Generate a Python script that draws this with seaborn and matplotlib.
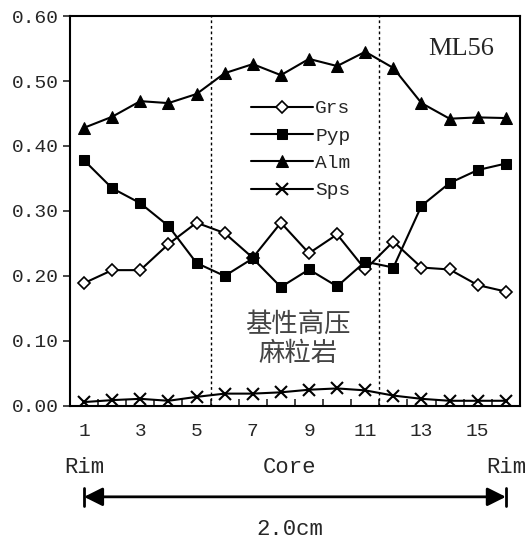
import numpy as np
import pandas as pd
import matplotlib
matplotlib.use("Agg")
import matplotlib.pyplot as plt
import matplotlib.transforms as mtransforms
import seaborn as sns

# Data (points 1..16, rim -> core -> rim)
points = list(range(1, 17))
grs = [0.189, 0.209, 0.209, 0.249, 0.282, 0.266, 0.228, 0.282, 0.235, 0.264, 0.210, 0.253, 0.213, 0.210, 0.186, 0.176]
pyp = [0.378, 0.335, 0.312, 0.277, 0.220, 0.200, 0.227, 0.183, 0.210, 0.184, 0.222, 0.213, 0.308, 0.343, 0.363, 0.373]
alm = [0.428, 0.445, 0.469, 0.466, 0.480, 0.512, 0.526, 0.509, 0.534, 0.523, 0.545, 0.520, 0.466, 0.442, 0.444, 0.443]
sps = [0.006, 0.009, 0.011, 0.008, 0.014, 0.019, 0.019, 0.021, 0.025, 0.027, 0.024, 0.016, 0.011, 0.008, 0.008, 0.008]

series_names = ["Grs", "Pyp", "Alm", "Sps"]
y_ticks = [0.0, 0.1, 0.2, 0.3, 0.4, 0.5, 0.6]
x_labels = [1, 3, 5, 7, 9, 11, 13, 15]
zone_bounds = [5.5, 11.5]

df = pd.DataFrame({"Point": points, "Grs": grs, "Pyp": pyp, "Alm": alm, "Sps": sps})

sns.set_style("ticks")
plt.rcParams["font.family"] = ["Liberation Mono", "DejaVu Sans"]

fig = plt.figure(figsize=(5.25, 5.39), dpi=100)
ax = fig.add_axes([0.1333, 0.2468, 0.857, 0.7235])

styles = {
    "Grs": dict(marker="D", markersize=6, markerfacecolor="white", markeredgecolor="black", markeredgewidth=1.2),
    "Pyp": dict(marker="s", markersize=7, markerfacecolor="black", markeredgecolor="black"),
    "Alm": dict(marker="^", markersize=9, markerfacecolor="black", markeredgecolor="black"),
    "Sps": dict(marker="x", markersize=8, markeredgecolor="black", markeredgewidth=1.5),
}
for name in series_names:
    sns.lineplot(data=df, x="Point", y=name, ax=ax, color="black", linewidth=1.5,
                 label=name, **styles[name])

# zone boundaries
for xb in zone_bounds:
    ax.axvline(xb, color="black", linestyle=(0, (2, 2)), linewidth=1)

ax.set_xlim(0.5, 16.5)
ax.set_ylim(0, 0.6)
ax.set_yticks(y_ticks)
ax.set_yticklabels([f"{v:.2f}" for v in y_ticks], fontsize=14)
ax.set_xticks(x_labels)
ax.set_xticklabels([str(v) for v in x_labels], fontsize=14)
ax.set_xticks(np.arange(0.5, 17, 1), minor=True)
ax.tick_params(axis="x", which="major", length=0, pad=12)
ax.tick_params(axis="x", which="minor", direction="in", length=5, width=1.2)
ax.tick_params(axis="y", which="major", direction="out", length=5, width=1.2, pad=3)
ax.set_xlabel("")
ax.set_ylabel("")
for spine in ax.spines.values():
    spine.set_linewidth(1.5)
    spine.set_color("black")

ax.legend(loc="upper left", bbox_to_anchor=(0.385, 0.805), frameon=False, fontsize=14,
          handlelength=3.2, handletextpad=0.1, labelspacing=0.5, borderaxespad=0)

ax.text(0.87, 0.915, "ML56", transform=ax.transAxes, ha="center", va="center",
        fontsize=19, family="Liberation Serif")
ax.text(8.6, 0.126, "基性高压", ha="center", va="center", fontsize=19,
        color="#444444", family=["Noto Sans CJK SC", "DejaVu Sans"])
ax.text(8.6, 0.080, "麻粒岩", ha="center", va="center", fontsize=19,
        color="#444444", family=["Noto Sans CJK SC", "DejaVu Sans"])

# rim - core - rim annotation below the axis
trans = mtransforms.blended_transform_factory(ax.transData, ax.transAxes)
ax.text(1, -0.158, "Rim", transform=trans, ha="center", va="center", fontsize=16, clip_on=False)
ax.text(8.3, -0.158, "Core", transform=trans, ha="center", va="center", fontsize=16, clip_on=False)
ax.text(16, -0.158, "Rim", transform=trans, ha="center", va="center", fontsize=16, clip_on=False)
ax.annotate("", xy=(1, -0.233), xytext=(16, -0.233), xycoords=trans, textcoords=trans,
            arrowprops=dict(arrowstyle="<|-|>", color="black", lw=2, mutation_scale=28,
                            shrinkA=0, shrinkB=0))
for xe in [1, 16]:
    ax.plot([xe, xe], [-0.21, -0.256], transform=trans, color="black", lw=2, clip_on=False)
ax.text(8.3, -0.318, "2.0cm", transform=trans, ha="center", va="center", fontsize=16, clip_on=False)

fig.savefig("out.png", dpi=100)
